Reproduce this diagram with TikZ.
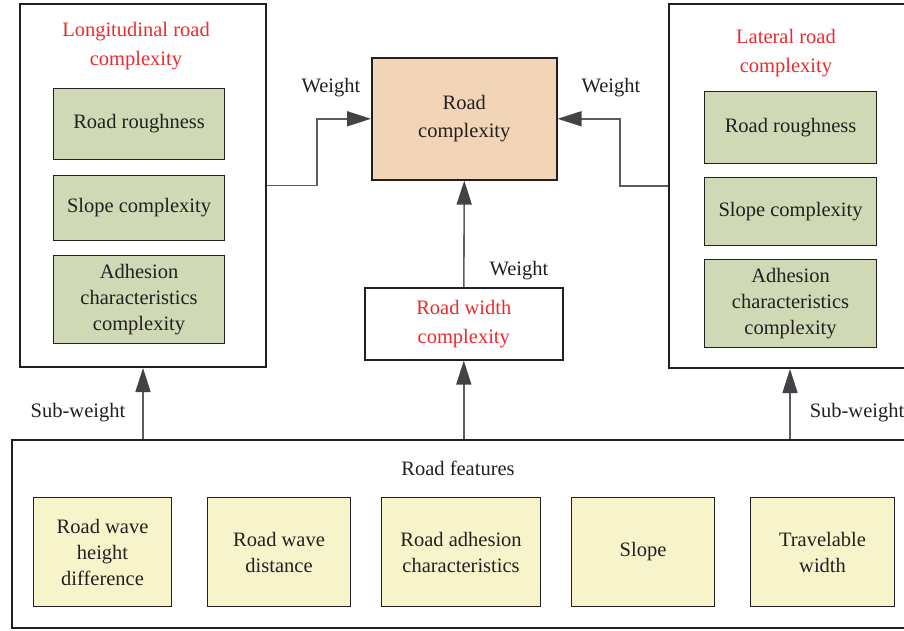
\documentclass[tikz,border=0pt]{standalone}
\usepackage{fontspec}
\setmainfont{Liberation Serif}
\usetikzlibrary{arrows.meta}

\definecolor{frame}{HTML}{231F20}
\definecolor{txt}{HTML}{231F20}
\definecolor{redtxt}{HTML}{EC2A2E}
\definecolor{subgreen}{HTML}{D0D9B5}
\definecolor{featyellow}{HTML}{F7F4CB}
\definecolor{peach}{HTML}{F2D4B7}
\definecolor{link}{HTML}{5A5B5D}
\definecolor{tip}{HTML}{424346}

\begin{document}
\begin{tikzpicture}[x=1pt,y=-1pt,
  every node/.style={font=\fontsize{20.5}{26}\selectfont, text=txt},
  outer/.style={draw=frame, line width=2pt, inner sep=0pt, anchor=north west},
  subbox/.style={draw=frame, line width=1.1pt, fill=subgreen, align=center, inner sep=0pt, anchor=north west},
  featbox/.style={draw=frame, line width=1.1pt, fill=featyellow, align=center, inner sep=0pt, anchor=north west},
  title/.style={text=redtxt, align=center, font=\fontsize{20.5}{29}\selectfont},
  conn/.style={draw=link, line width=1.6pt, -{Triangle[length=24pt,width=15pt,color=tip]}}
]
\useasboundingbox (0,0) rectangle (904,631);
\clip (0,0) rectangle (904,631);

% longitudinal part
\node[outer, minimum width=246, minimum height=363] (long) at (19,3) {};
\node[title] (longtitle) at (136,46) {Longitudinal road\\complexity};
\node[subbox, minimum width=171, minimum height=71] (lrough) at (53,88) {Road roughness};
\node[subbox, minimum width=171, minimum height=65] (lslope) at (53,175) {Slope complexity};
\node[subbox, minimum width=171, minimum height=88] (ladh) at (53,255) {Adhesion\\characteristics\\complexity};

% lateral part
\node[outer, minimum width=242, minimum height=364] (lat) at (668,3) {};
\node[title] (lattitle) at (786,53) {Lateral road\\complexity};
\node[subbox, minimum width=172, minimum height=72] (rrough) at (704,91) {Road roughness};
\node[subbox, minimum width=172, minimum height=68] (rslope) at (704,177) {Slope complexity};
\node[subbox, minimum width=172, minimum height=88] (radh) at (704,259) {Adhesion\\characteristics\\complexity};

% centre
\node[outer, fill=peach, line width=1.6pt, align=center, minimum width=185, minimum height=122,
  font=\fontsize{20.5}{28}\selectfont] (road) at (371,57) {Road\\complexity};
\node[outer, fill=white, line width=1.6pt, align=center, minimum width=198, minimum height=72,
  text=redtxt, font=\fontsize{20.5}{29}\selectfont] (width) at (364,287) {Road width\\complexity};

% road features
\node[outer, minimum width=899, minimum height=188] (feat) at (11,439) {};
\node (feattitle) at (458,468) {Road features};
\node[featbox, minimum width=138, minimum height=109] (f1) at (33,497) {Road wave\\height\\difference};
\node[featbox, minimum width=143, minimum height=109] (f2) at (207,497) {Road wave\\distance};
\node[featbox, minimum width=159, minimum height=109] (f3) at (381,497) {Road adhesion\\characteristics};
\node[featbox, minimum width=143, minimum height=109] (f4) at (571,497) {Slope};
\node[featbox, minimum width=144, minimum height=109] (f5) at (750,497) {Travelable\\width};

% connectors
\draw[conn] (long.east) -- ++(50,0) |- (road.west);
\draw[conn] (lat.west) -- ++(-48,0) |- (road.east);
\draw[conn] (width.north) -- (road.south);
\draw[conn] (feat.north -| long.south) -- (long.south);
\draw[conn] (feat.north -| width.south) -- (width.south);
\draw[conn] (feat.north -| lat.south) -- (lat.south);

\node (wl) at (331,88) {Weight};
\node (wr) at (611,88) {Weight};
\node (wm) at (519,271) {Weight};
\node (sl) at (78,413) {Sub-weight};
\node (sr) at (857,413) {Sub-weight};
\end{tikzpicture}
\end{document}
